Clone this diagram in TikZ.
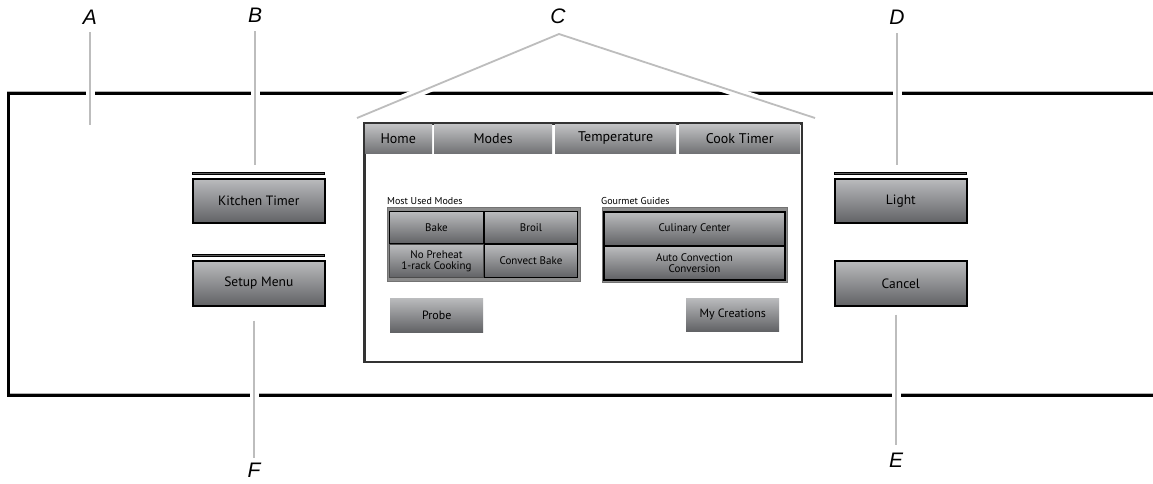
\documentclass[tikz,border=0pt]{standalone}
\usepackage{fontspec}
\setmainfont{PT Sans}
\newfontfamily\lblfont{Liberation Sans}
\usetikzlibrary{positioning,calc}
\definecolor{btntop}{HTML}{BABBBD}
\definecolor{btnbot}{HTML}{616265}
\definecolor{leadgray}{HTML}{BDBDBD}
\definecolor{boxgray}{HTML}{8C8C8C}
\tikzset{
    keybtn/.style={draw=black, line width=1.6pt, top color=btntop, bottom color=btnbot,
        minimum width=132pt, minimum height=44pt, inner sep=0pt, anchor=north west,
        font=\fontsize{13.5}{15}\selectfont},
    keybar/.style={draw=black, line width=0.6pt, fill=black!65, minimum width=132pt,
        minimum height=2.6pt, inner sep=0pt, anchor=north west},
    tab/.style={top color=btntop!85!white, bottom color=btnbot!90!white, minimum height=30pt,
        inner sep=0pt, anchor=north west, font=\fontsize{14}{15}\selectfont},
    gridbtn/.style={draw=#1, line width=1pt, top color=btntop, bottom color=btnbot,
        inner sep=0pt, anchor=north west, align=center,
        font=\fontsize{11}{11.5}\selectfont},
    gridbtn/.default=black,
    padbtn/.style={top color=btntop, bottom color=btnbot, minimum width=93pt,
        inner sep=0pt, anchor=north west, font=\fontsize{12}{13}\selectfont},
    caption/.style={anchor=west, inner sep=0pt, font=\fontsize{10}{11}\selectfont},
    lbl/.style={inner sep=0pt, font=\lblfont\itshape\fontsize{21}{24}\selectfont},
    leader/.style={draw=leadgray, line width=1.8pt, preaction={draw=white, line width=9pt}}
}
\begin{document}
\begin{tikzpicture}[x=1pt,y=-1pt]
    \useasboundingbox (0,0) rectangle (1153,483);
    % panel edge, open to the right
    \draw[black!30, line width=0.8pt] (1153,91.6) -- (7,91.6);
    \draw[black!30, line width=0.8pt] (1153,393.6) -- (10,393.6);
    \draw[line width=3pt] (1153,93.5) -- (8.5,93.5) -- (8.5,395.5) -- (1153,395.5);
    % callout letters
    \node[lbl] (A) at (90,17) {A};
    \node[lbl] (B) at (255,15) {B};
    \node[lbl] (C) at (558,16) {C};
    \node[lbl] (D) at (897,17) {D};
    \node[lbl] (E) at (896,460) {E};
    \node[lbl] (F) at (254,470) {F};
    % side keys
    \node[keybar] (kbar) at (192,171.5) {};
    \node[keybtn] (kitchen) at (192,178) {Kitchen Timer};
    \node[keybar] (sbar) at (192,253.5) {};
    \node[keybtn, minimum height=45pt] (setup) at (192,260) {Setup Menu};
    \node[keybar] (lbar) at (834,171.5) {};
    \node[keybtn] (light) at (834,178) {Light};
    \node[keybtn, minimum height=45pt] (cancel) at (834,260) {Cancel};
    % leaders
    \coordinate (Aend) at (90,125);
    \coordinate (Capex) at (559,34);
    \coordinate (Cl) at (357,118);
    \coordinate (Cr) at (815,118);
    \draw[leader, shorten <=8pt] (A.south) -- (Aend);
    \draw[leader, shorten <=9pt, shorten >=7pt] (B.south) -- (B.south |- kbar.north);
    \draw[leader] (Cl) -- (Capex) -- (Cr);
    \draw[leader, shorten <=9pt, shorten >=7pt] (D.south) -- (D.south |- lbar.north);
    \draw[leader, shorten <=8pt, shorten >=8pt] (E.north |- cancel.south) -- (E.north);
    \draw[leader, shorten <=14pt, shorten >=5pt] (F.north |- setup.south) -- (F.north);
    % screen
    \fill[black!35] (366,125) rectangle (803,363);
    \node[draw=black!80, line width=1.6pt, fill=white, minimum width=437pt, minimum height=238pt,
        inner sep=0pt, anchor=north west] (scr) at (364,123) {};
    \foreach \x/\w/\t/\n in {364/68/Home/home, 434/118/Modes/modes,
                             555/121/Temperature/temp, 679/121/Cook Timer/cook}
        \node[tab, minimum width=\w pt] (\n) at (\x,123) {\t};
    \draw[black!80, line width=1.6pt] (scr.north west) rectangle (scr.south east);
    % most used modes
    \node[caption] (mulbl) at (387,201) {Most Used Modes};
    \node[fill=boxgray, draw=black!55, line width=0.6pt, minimum width=193pt, minimum height=74pt,
        inner sep=0pt, anchor=north west] (mubox) at (387,207) {};
    \node[gridbtn, minimum width=94pt, minimum height=32pt] (bake) at (389,211) {Bake};
    \node[gridbtn, minimum width=93pt, minimum height=32pt] (broil) at (484,211) {Broil};
    \node[gridbtn=black!70, minimum width=94pt, minimum height=33pt] (nopre) at (389,244)
        {No Preheat\\1-rack Cooking};
    \node[gridbtn, minimum width=93pt, minimum height=33pt] (convect) at (484,244) {Convect Bake};
    % gourmet guides
    \node[caption] (gglbl) at (601,201) {Gourmet Guides};
    \node[fill=boxgray, draw=black!55, line width=0.6pt, minimum width=185pt, minimum height=75pt,
        inner sep=0pt, anchor=north west] (ggbox) at (602,207) {};
    \node[gridbtn, minimum width=180pt, minimum height=33pt] (culinary) at (604,212) {Culinary Center};
    \node[gridbtn, minimum width=180pt, minimum height=33pt] (autoconv) at (604,246)
        {Auto Convection\\Conversion};
    \draw[line width=2.6pt] (culinary.north west) rectangle (autoconv.south east);
    % bottom keys
    \node[padbtn, minimum height=34pt] (probe) at (390,298) {Probe};
    \node[padbtn, minimum height=33pt] (mycre) at (686,298) {My Creations};
\end{tikzpicture}
\end{document}
